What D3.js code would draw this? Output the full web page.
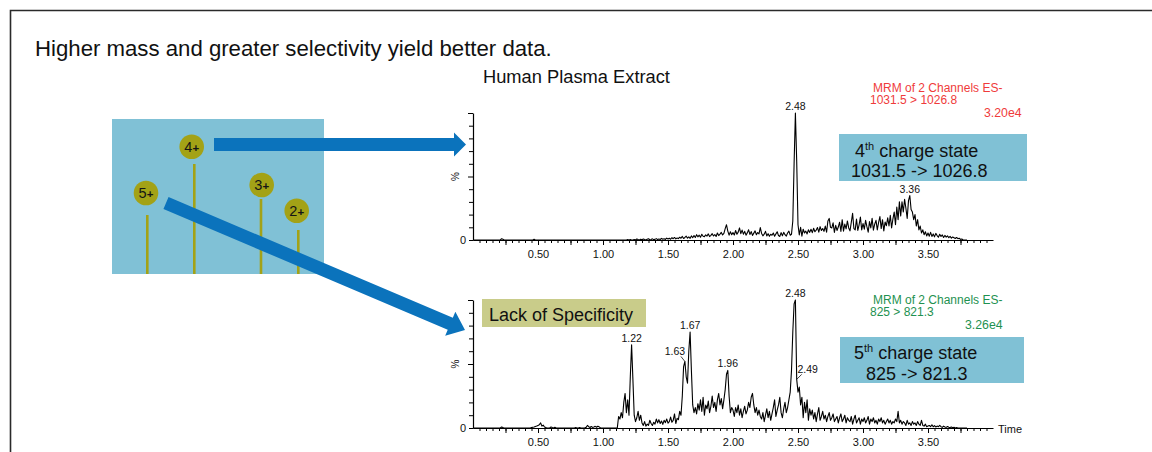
<!DOCTYPE html>
<html><head><meta charset="utf-8">
<script src="https://cdn.jsdelivr.net/npm/d3@7"></script>
<style>
body{margin:0;background:#fff;}
svg{display:block;font-family:"Liberation Sans",Arial,sans-serif;}
</style></head><body>
<svg id="c" width="1152" height="452"></svg>
<script>
// ---------- DATA ----------
const scanStart = 0.00, scanStep = 0.01;           // minutes
// 4th charge state 1031.5 -> 1026.8 (% of 3.20e4), one value per scan 0.00..3.80
const trace4 = [
0,0,0,0,0,0,0,0,0,0,
0,0,0,0,0,0,0,0,0,0,
0,0,1,0.5,0,0,0,0,0,0,
0,0,0,0,0,0,0,0,0,0,
0,0,0,0,0,0,0,0.5,0,0,
0,0,0,0,0,0,0,0,0,0,
0,0,0,0,0,0,0,0,0,0,
0,0,0,0,0,0,0,0,0,0,
0,0,0,0,0,0,0,0,0,0,
0,0,0,0,0,0,0,0,0,0,
0,0,0,0,0,0,0,0,0,0,
0,0,0,0,0,0,0,0,0,0.3,
0,0.3,0,0,0.4,0,0.8,0.3,0,0.6,
0.2,0.8,0.3,0,0.6,1,0.2,0.4,0.9,0.3,
0.5,1.1,0.3,0.8,0.4,1.3,0.6,1,0.4,1.5,
0.8,1.4,0.6,1.8,1,2,0.9,1.6,1.1,2.2,
1.4,2.8,1.2,2,3,1.5,2.4,1.3,3.2,1.8,
3.5,2,4.2,2.5,3.8,2.2,4.5,3,2.6,4,
3.1,4.8,2.7,3.6,5,3.2,4.2,2.8,5.5,3.5,
4.6,6,4,5.2,9,12,7,3.8,6.5,4.2,
5.8,3.9,7.5,4.5,6.2,9.5,5,7.8,4.6,6.8,
3.8,5.6,8,4.4,6.6,3.6,5.4,7.2,4.1,5.9,
4.8,9.8,5.2,3.3,4.6,6.8,3.2,5,2.9,4.5,
3.8,5.5,3,4.8,6.5,3.5,2.8,5.8,3.4,6,
4.2,3.1,5.5,7,3.8,4.5,15,60,100,62,
12,4,10,3,8.5,5.5,7,4.8,8,6,
8.5,5.8,9.2,6.5,7.8,9.8,6.2,10.5,7.5,9,
6.8,11,6.2,15,17,10,9.5,13.5,6,11.5,
7.5,10.2,14,6.8,16,7,12.5,8.8,15,9.5,
7.2,14,21,9,8,16.5,7.5,12,18,8,
13,8.5,15.5,10.5,6.2,14.5,9.5,17,7.8,12.5,
15.5,8,13.8,18.5,9,16,7.2,14.2,11.2,17.5,
11,19.5,9.5,16.5,22,12,26,16,30,19,
30,22,32,25,17,31,35,24,22,16,
20,11,16,8,11,5.5,8,4.2,6.5,3.2,
5.5,3,6,2.8,4.8,2.5,5.2,3.5,2.2,4.5,
2.8,4,2,3.6,2.3,3.2,1.8,2.8,1.5,2.4,
1.8,1.2,2,1,1.4,0.5,0.8,0,0,0,
0];
// 5th charge state 825 -> 821.3 (% of 3.26e4)
const trace5 = [
0,0,0,0,0,0,0,0,0,0,
0,0,0,0,0,0,0,0,0,0,
0,0,0.8,0.3,0,0,0,0,0,0,
0,0,0,0,0,0,0,0,0,0,
0,0,0,0,0,0.3,0.6,0.8,1.2,1.5,
2,2.5,4,1.5,2.2,0.8,0.3,0,0,0,
0.8,0.3,0,0.5,0,0,0,0,0,0,
0,0,0,0,0,0,0,0,0,0.4,
0,0,0.3,0,0,0,0.2,0.5,2,1,
0.4,1.2,0.5,0.8,1.3,0.6,1.4,0.9,0.2,0,
0,0,0,0,0,0,0,0,0,0,
0,0,9,7,12,8,20,27,12,22,
10,40,65,38,10,5,8,13,6,10,
4,2,5,1.5,3,2,6,3.5,2,4.5,
3,7,4,6.5,3.5,5.5,2.8,6,4.2,7,
3.8,5,8.5,4.5,6,11,3.5,7.5,6.5,13,
10,25,48,52,40,35,60,75,45,18,
12,16,11,19,14,22,13,24,10,18,
15,21,12,17,25,16,20,13,22,27,
18,23,15,22,30,42,45,25,12,16,
14,9,16,12,18,10,15,8,13,17,
11,14,20,16,24,27,18,12,16,10,
14,9,7,12,5,10,15,8,13,6,
11,16,22,9,14,18,24,12,8,15,
20,12,16,22,28,45,75,97,100,38,
28,32,18,24,8,20,12,22,6,15,
10,14,7,12,5,11,16,6,9,13,
7,10,5,9,12,6,8,11,5,7,
9,4,8,11,5,7,10,4,8,6,
5,9,3,7,10,4,6,8,3,7,
5,8,4,6,9,3,7,5,8,4,
6,3,7,5,8,4,6,3,5,7,
4,6,3,5,4,7,5,13,4,6,
3,5,4,2,6,3,4,2,5,3,
4,2,5,3,2,6,2,1.5,3,1,
1.5,2,1,2.5,1,1.8,0.8,1.5,1,2,
1,0.5,1.5,0.8,0.5,1.2,0.6,0.3,0.8,0.2,
0.5,0,0.3,0,0,0,0,0,0,0,
0];
const peaks4 = ["2.48","3.36"];
const peaks5 = ["1.22","1.63","1.67","1.96","2.48","2.49"];
const xTickLabels = ["0.50","1.00","1.50","2.00","2.50","3.00","3.50"];
const yTickLabels = ["0"];
const xMinorStep = 0.05, xMidStep = 0.25, xMax = 4.0, yMinorStep = 10;
const chargeStates = ["5+","4+","3+","2+"];

// ---------- LAYOUT ----------
const svg = d3.select("#c");
const FONT = '"Liberation Sans",Arial,sans-serif';
const x = d3.scaleLinear().domain([0, xMax]).range([473, 993]);
const panels = [
  {data: trace4, peaks: peaks4, y: d3.scaleLinear().domain([0,100]).range([240,113]), time:false},
  {data: trace5, peaks: peaks5, y: d3.scaleLinear().domain([0,100]).range([428,300]), time:true}
];
const labelOffsets = { "1.63": {dx:-10, dy:-6, leader:true}, "2.49": {dx:11, dy:-6, leader:true} };

// frame
svg.append("path").attr("d","M10.5,452 L10.5,10.5 L1152,10.5").attr("fill","none").attr("stroke","#2a2a2a").attr("stroke-width",1.6);

svg.append("text").attr("x",35).attr("y",56).attr("font-size",22.2).attr("fill","#111").text("Higher mass and greater selectivity yield better data.");
svg.append("text").attr("x",483).attr("y",83).attr("font-size",18.3).attr("fill","#111").text("Human Plasma Extract");

const majorTicks = xTickLabels.map(Number);
const minorTicks = d3.range(1, Math.round(xMax/xMinorStep)).map(i => +(i*xMinorStep).toFixed(2));
const midTicks = d3.range(1, Math.round(xMax/xMidStep)).map(i => +(i*xMidStep).toFixed(2));

panels.forEach(p => {
  const base = p.y(0);
  const g = svg.append("g");
  g.append("g").attr("transform",`translate(0,${base})`)
    .call(d3.axisBottom(x).tickValues(minorTicks).tickSize(3).tickFormat(""))
    .call(a => a.select(".domain").remove());
  g.append("g").attr("transform",`translate(0,${base})`)
    .call(d3.axisBottom(x).tickValues(midTicks).tickSize(5).tickFormat(""))
    .call(a => a.select(".domain").remove());
  const xa = g.append("g").attr("transform",`translate(0,${base})`)
    .call(d3.axisBottom(x).tickValues(majorTicks).tickSize(5).tickSizeOuter(0).tickFormat((d,i)=>xTickLabels[i]));
  xa.selectAll("text").attr("font-size",11).attr("font-family",FONT).attr("fill","#111").attr("dy","0.95em");
  xa.select(".domain").attr("stroke-width",1.2);
  const ya = g.append("g").attr("transform",`translate(${x(0)},0)`)
    .call(d3.axisLeft(p.y).tickValues(d3.range(0,101,yMinorStep)).tickSize(4).tickSizeOuter(0)
      .tickFormat(d => d === 0 ? yTickLabels[0] : ""));
  ya.selectAll("text").attr("font-size",11).attr("font-family",FONT).attr("fill","#111").attr("x",-7);
  ya.select(".domain").attr("stroke-width",1.2);
  ya.selectAll(".tick line").filter(d => d===50 || d===100).attr("x2",-5);
  svg.append("text").attr("transform",`translate(${x(0)-14},${p.y(50)}) rotate(-90)`)
    .attr("text-anchor","middle").attr("font-size",10).attr("fill","#111").text("%");
  const line = d3.line().x((d,i)=>x(scanStart + i*scanStep)).y(d=>p.y(d));
  svg.append("path").datum(p.data).attr("d",line).attr("fill","none").attr("stroke","#000").attr("stroke-width",1.1).attr("stroke-linejoin","round");
  p.peaks.forEach(lbl => {
    const t = +lbl, idx = Math.round((t-scanStart)/scanStep);
    const px = x(t), py = p.y(p.data[idx]);
    const o = labelOffsets[lbl] && p.time ? labelOffsets[lbl] : {dx:0, dy:-3};
    svg.append("text").attr("x",px+o.dx).attr("y",py+o.dy).attr("text-anchor","middle")
      .attr("font-size",10.5).attr("fill","#111").text(lbl);
    if (o.leader) {
      const sx = o.dx < 0 ? px+o.dx+6 : px+o.dx-6;
      svg.append("line").attr("x1",sx).attr("y1",py+o.dy+1).attr("x2",px).attr("y2",py)
        .attr("stroke","#111").attr("stroke-width",0.8);
    }
  });
  if (p.time) svg.append("text").attr("x",998).attr("y",base+5).attr("font-size",11).attr("fill","#111").text("Time");
});

// channel headers
const hdr = (col, y0, line2, scale, sx) => {
  svg.append("text").attr("x",873).attr("y",y0).attr("font-size",12).attr("fill",col).text("MRM of 2 Channels ES-");
  svg.append("text").attr("x",870).attr("y",y0+12.5).attr("font-size",12).attr("fill",col).text(line2);
  svg.append("text").attr("x",sx).attr("y",y0+25).attr("font-size",12.3).attr("fill",col).text(scale);
};
hdr("#ef3b3b", 91.5, "1031.5 > 1026.8", "3.20e4", 984);
hdr("#1e9150", 303.5, "825 > 821.3", "3.26e4", 965);

// annotation boxes
const box = (x0,y0,w,h,fill) => svg.append("rect").attr("x",x0).attr("y",y0).attr("width",w).attr("height",h).attr("fill",fill);
box(839,134,188,47,"#80c1d5");
box(840,337,184,46,"#80c1d5");
box(482,299,164,28,"#c9cc8a");
const stateText = (x0,y0,num) => {
  const t = svg.append("text").attr("x",x0).attr("y",y0).attr("font-size",18).attr("fill","#111");
  t.append("tspan").text(num);
  t.append("tspan").attr("font-size",11).attr("dy",-7).text("th");
  t.append("tspan").attr("dy",7).text(" charge state");
};
stateText(855,157,"4");
svg.append("text").attr("x",851).attr("y",177).attr("font-size",18).attr("fill","#111").text("1031.5 -> 1026.8");
stateText(854,359,"5");
svg.append("text").attr("x",866).attr("y",380).attr("font-size",18).attr("fill","#111").text("825 -> 821.3");
svg.append("text").attr("x",489).attr("y",321).attr("font-size",18).attr("fill","#111").text("Lack of Specificity");

// charge-state schematic
svg.append("rect").attr("x",112).attr("y",119).attr("width",212).attr("height",155).attr("fill","#80c1d6");
const ions = [
  {cx:146, cy:193, sx:147.3, sy:215},
  {cx:191.7, cy:146.7, sx:194.3, sy:164},
  {cx:261.7, cy:185, sx:261, sy:199},
  {cx:296.7, cy:210.7, sx:298.3, sy:230}
];
chargeStates.forEach((lbl,i) => {
  const o = ions[i];
  svg.append("line").attr("x1",o.sx).attr("y1",o.sy).attr("x2",o.sx).attr("y2",274).attr("stroke","#a3a216").attr("stroke-width",2.6);
  svg.append("circle").attr("cx",o.cx).attr("cy",o.cy).attr("r",12.3).attr("fill","#a3a216");
  const t = svg.append("text").attr("x",o.cx).attr("y",o.cy+5).attr("text-anchor","middle").attr("font-size",14.5).attr("fill","#151515");
  t.append("tspan").text(lbl[0]);
  t.append("tspan").attr("font-size",11.5).attr("font-weight","bold").text(lbl[1]);
});

// arrows
const arrow = (x1,y1,x2,y2,shaftW,headW,headL) => {
  const dx=x2-x1, dy=y2-y1, L=Math.hypot(dx,dy), ux=dx/L, uy=dy/L, nx=-uy, ny=ux;
  const bx=x2-ux*headL, by=y2-uy*headL;
  const pts=[[x1+nx*shaftW/2,y1+ny*shaftW/2],[bx+nx*shaftW/2,by+ny*shaftW/2],[bx+nx*headW/2,by+ny*headW/2],[x2,y2],
             [bx-nx*headW/2,by-ny*headW/2],[bx-nx*shaftW/2,by-ny*shaftW/2],[x1-nx*shaftW/2,y1-ny*shaftW/2]];
  svg.append("polygon").attr("points",pts.map(p=>p.join(",")).join(" ")).attr("fill","#0b73bc");
};
arrow(214,144.5,466,144.5,13,24,12);
arrow(166,203,465,330,13,26,16);
</script>
</body></html>
